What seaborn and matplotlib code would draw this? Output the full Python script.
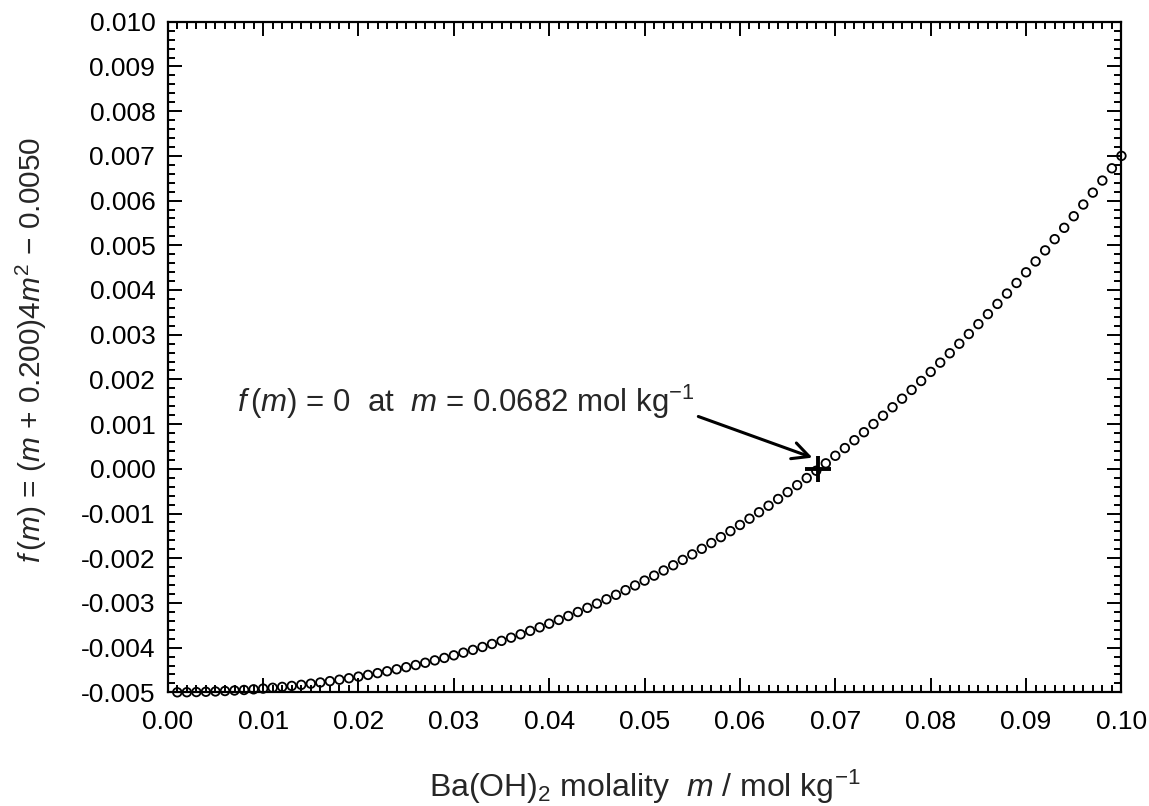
import matplotlib
matplotlib.use('Agg')

import numpy as np
import pandas as pd
import matplotlib.pyplot as plt
import seaborn as sns
from matplotlib.ticker import MultipleLocator, FormatStrFormatter

# 数据：m (mol/kg) 与 f(m)
molality = [
    0.001, 0.002, 0.003, 0.004, 0.005, 0.006, 0.007, 0.008, 0.009, 0.010,
    0.011, 0.012, 0.013, 0.014, 0.015, 0.016, 0.017, 0.018, 0.019, 0.020,
    0.021, 0.022, 0.023, 0.024, 0.025, 0.026, 0.027, 0.028, 0.029, 0.030,
    0.031, 0.032, 0.033, 0.034, 0.035, 0.036, 0.037, 0.038, 0.039, 0.040,
    0.041, 0.042, 0.043, 0.044, 0.045, 0.046, 0.047, 0.048, 0.049, 0.050,
    0.051, 0.052, 0.053, 0.054, 0.055, 0.056, 0.057, 0.058, 0.059, 0.060,
    0.061, 0.062, 0.063, 0.064, 0.065, 0.066, 0.067, 0.068, 0.069, 0.070,
    0.071, 0.072, 0.073, 0.074, 0.075, 0.076, 0.077, 0.078, 0.079, 0.080,
    0.081, 0.082, 0.083, 0.084, 0.085, 0.086, 0.087, 0.088, 0.089, 0.090,
    0.091, 0.092, 0.093, 0.094, 0.095, 0.096, 0.097, 0.098, 0.099, 0.100,
]
f_values = [
    -0.004999, -0.004997, -0.004993, -0.004987, -0.004980, -0.004970, -0.004959, -0.004947, -0.004932, -0.004916,
    -0.004898, -0.004878, -0.004856, -0.004832, -0.004806, -0.004779, -0.004749, -0.004717, -0.004684, -0.004648,
    -0.004610, -0.004570, -0.004528, -0.004484, -0.004437, -0.004389, -0.004338, -0.004285, -0.004230, -0.004172,
    -0.004112, -0.004050, -0.003985, -0.003918, -0.003848, -0.003777, -0.003702, -0.003625, -0.003546, -0.003464,
    -0.003380, -0.003292, -0.003203, -0.003110, -0.003015, -0.002918, -0.002818, -0.002714, -0.002609, -0.002500,
    -0.002389, -0.002274, -0.002157, -0.002037, -0.001914, -0.001789, -0.001660, -0.001528, -0.001394, -0.001256,
    -0.001115, -0.000971, -0.000825, -0.000675, -0.000521, -0.000365, -0.000206, -0.000043, 0.000123, 0.000292,
    0.000464, 0.000640, 0.000819, 0.001002, 0.001188, 0.001377, 0.001569, 0.001765, 0.001965, 0.002168,
    0.002375, 0.002585, 0.002798, 0.003016, 0.003237, 0.003461, 0.003689, 0.003921, 0.004157, 0.004396,
    0.004639, 0.004886, 0.005137, 0.005391, 0.005650, 0.005912, 0.006178, 0.006448, 0.006722, 0.007000,
]
root_m = [0.0682]
root_f = [0.0]

df = pd.DataFrame({'m': molality, 'f': f_values})

sns.set_style('ticks')
plt.rcParams['font.family'] = ['Liberation Sans', 'DejaVu Sans']
plt.rcParams['mathtext.fontset'] = 'custom'
plt.rcParams['mathtext.rm'] = 'Liberation Sans'
plt.rcParams['mathtext.it'] = 'Liberation Sans:italic'
plt.rcParams['axes.unicode_minus'] = False

fig = plt.figure(figsize=(11.49, 8.06), dpi=100)
ax = fig.add_axes([0.146, 0.141, 0.830, 0.832])

sns.scatterplot(data=df, x='m', y='f', ax=ax, marker='o', s=38,
                facecolors='none', edgecolor='black', linewidth=1.3,
                legend=False, clip_on=False, zorder=4)
sns.scatterplot(x=root_m, y=root_f, ax=ax, marker='+', s=330,
                color='black', linewidth=2.8, legend=False, zorder=5)

ax.set_xlim(0.0, 0.10)
ax.set_ylim(-0.005, 0.010)
ax.xaxis.set_major_locator(MultipleLocator(0.01))
ax.xaxis.set_minor_locator(MultipleLocator(0.001))
ax.yaxis.set_major_locator(MultipleLocator(0.001))
ax.yaxis.set_minor_locator(MultipleLocator(0.0002))
ax.xaxis.set_major_formatter(FormatStrFormatter('%.2f'))
ax.yaxis.set_major_formatter(FormatStrFormatter('%.3f'))

ax.tick_params(which='both', direction='in', top=True, right=True,
               labelsize=19, width=1.4, colors='black')
ax.tick_params(which='major', length=10)
ax.tick_params(which='minor', length=5)
ax.tick_params(axis='x', which='major', pad=13)
ax.tick_params(axis='y', which='major', pad=9)
for sp in ax.spines.values():
    sp.set_linewidth(1.6)
    sp.set_color('black')

ax.set_xlabel(r'Ba(OH)$_2$ molality  $m$ / mol kg$^{-1}$', fontsize=23)
ax.xaxis.set_label_coords(0.5, -0.112)
ax.set_ylabel(r'$f\,(m)$ = ($m$ + 0.200)4$m^2$ $-$ 0.0050', fontsize=21.5)
ax.yaxis.set_label_coords(-0.124, 0.51)

ax.annotate(r'$f\,(m)$ = 0  at  $m$ = 0.0682 mol kg$^{-1}$',
            xy=(0.0676, 0.00025), xytext=(0.0073, 0.00127),
            fontsize=22.5, va='baseline', ha='left',
            arrowprops=dict(arrowstyle='->', color='black', lw=2.2,
                            mutation_scale=30, shrinkA=0, shrinkB=0,
                            relpos=(1.0, 0.15)))

plt.savefig('out.png', dpi=100)
plt.close()
